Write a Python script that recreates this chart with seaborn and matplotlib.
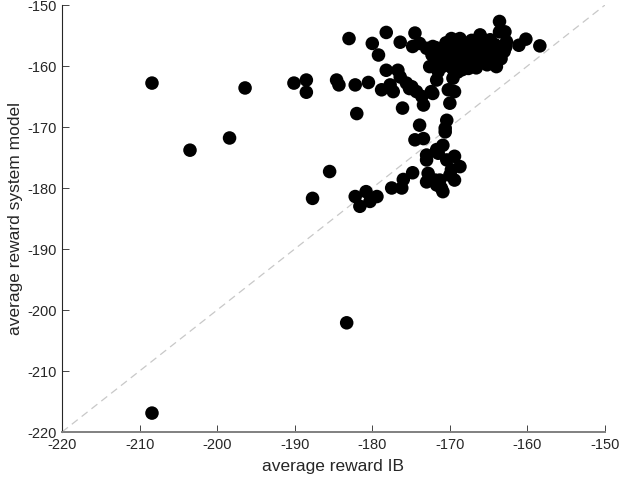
import numpy as np
import pandas as pd
import seaborn as sns
import matplotlib
matplotlib.use("Agg")
import matplotlib.pyplot as plt

# average reward per run: IB (x) vs system model (y)
reward_ib = [
    -208.4, -183.3, -208.4, -203.5, -198.4, -196.4, -190.1, -188.5, -188.5, -187.7,
    -185.5, -183.0, -184.6, -184.3, -182.2, -180.5, -182.0, -180.0, -178.2, -179.2,
    -176.4, -174.5, -178.2, -176.7, -176.4, -178.8, -177.7, -177.3, -175.6, -174.9,
    -174.3, -173.6, -173.4, -176.1, -172.4, -172.6, -171.7, -171.5, -170.2, -169.4,
    -170.0, -170.4, -170.6, -170.6, -173.9, -174.5, -173.4, -170.9, -171.7, -173.0,
    -173.0, -171.5, -170.4, -169.4, -172.8, -173.0, -171.9, -171.3, -171.1, -170.9,
    -169.8, -168.7, -169.4, -170.0, -171.7, -174.8, -177.5, -176.2, -176.0, -182.2,
    -180.8, -181.6, -180.3, -179.4, -163.6, -162.9, -163.6, -162.7, -161.1, -160.2,
    -158.4, -163.6, -174.8, -173.9, -173.0, -172.2, -169.6, -167.6, -166.1, -169.8,
    -168.7, -164.8, -175.2, -172.2,
    -171.0, -170.5, -170.0, -169.5, -169.2, -168.8, -168.5, -168.2, -168.0, -167.6,
    -167.4, -167.0, -166.8, -166.5, -166.2, -166.0, -165.7, -165.4, -165.0, -164.8,
    -164.5, -164.2, -164.0, -163.7, -163.4, -163.0, -162.8, -171.5, -170.8, -170.2,
    -169.6, -169.0, -168.4, -167.8, -170.5, -169.8, -167.2, -165.8, -164.0, -166.6,
    -165.2, -172.3, -171.8,
]
reward_model = [
    -216.9, -202.1, -162.8, -173.8, -171.8, -163.6, -162.8, -162.3, -164.3, -181.7,
    -177.3, -155.5, -162.3, -163.1, -163.1, -162.7, -167.8, -156.3, -154.5, -158.2,
    -156.1, -154.6, -160.7, -160.7, -161.8, -163.9, -163.1, -164.2, -162.8, -163.4,
    -164.2, -165.0, -166.4, -166.9, -164.2, -160.1, -162.3, -160.9, -163.9, -164.2,
    -166.1, -168.9, -170.2, -170.8, -169.7, -172.1, -171.9, -173.0, -173.7, -174.6,
    -175.4, -174.3, -175.4, -174.8, -177.6, -179.0, -178.7, -178.7, -180.0, -180.6,
    -177.0, -176.5, -178.7, -177.9, -179.5, -177.5, -180.0, -180.0, -178.6, -181.4,
    -180.6, -183.0, -182.2, -181.4, -152.7, -154.4, -154.4, -156.0, -156.6, -155.6,
    -156.7, -158.5, -156.8, -156.3, -157.1, -156.8, -162.0, -160.4, -154.9, -155.5,
    -155.5, -155.7, -163.7, -164.5,
    -157.5, -158.6, -157.2, -159.0, -157.9, -156.8, -158.5, -159.6, -157.4, -156.5,
    -158.2, -159.2, -157.0, -158.0, -156.3, -159.0, -157.5, -158.6, -156.8, -157.9,
    -159.4, -156.5, -158.2, -157.2, -158.8, -157.6, -156.9, -159.0, -160.0, -159.6,
    -160.5, -161.0, -160.6, -160.0, -156.2, -156.0, -155.8, -155.6, -160.1, -160.3,
    -159.8, -158.2, -157.0,
]
ticks = [-220, -210, -200, -190, -180, -170, -160, -150]

df = pd.DataFrame({"ib": reward_ib, "model": reward_model})

sns.set_style("white")
plt.rcParams["font.family"] = ["Liberation Sans", "DejaVu Sans"]
plt.rcParams["axes.unicode_minus"] = False

fig = plt.figure(figsize=(6.22, 4.86), dpi=100)
ax = fig.add_axes([62 / 622, 54 / 486, 543 / 622, 427 / 486])

ax.plot([-220, -150], [-220, -150], ls=(0, (6, 4)), color="#c8c8c8", lw=0.9, zorder=1)
sns.scatterplot(data=df, x="ib", y="model", color="black", s=95,
                edgecolor="none", ax=ax, zorder=2)

ax.set_xlim(-220, -150)
ax.set_ylim(-220, -150)
ax.set_xticks(ticks)
ax.set_yticks(ticks)
ax.set_xlabel("average reward IB", fontsize=12.5, color="#262626", labelpad=5)
ax.set_ylabel("average reward system model", fontsize=12.5, color="#262626", labelpad=3)
ax.tick_params(direction="in", length=5, width=0.6, labelsize=10.5,
               colors="#262626", pad=4, bottom=True, left=True)

for side in ["top", "right"]:
    ax.spines[side].set_visible(False)
ax.spines["left"].set_color("#262626")
ax.spines["left"].set_linewidth(0.8)
ax.spines["bottom"].set_color("#808080")
ax.spines["bottom"].set_linewidth(1.4)

fig.savefig("out.png", dpi=100)
